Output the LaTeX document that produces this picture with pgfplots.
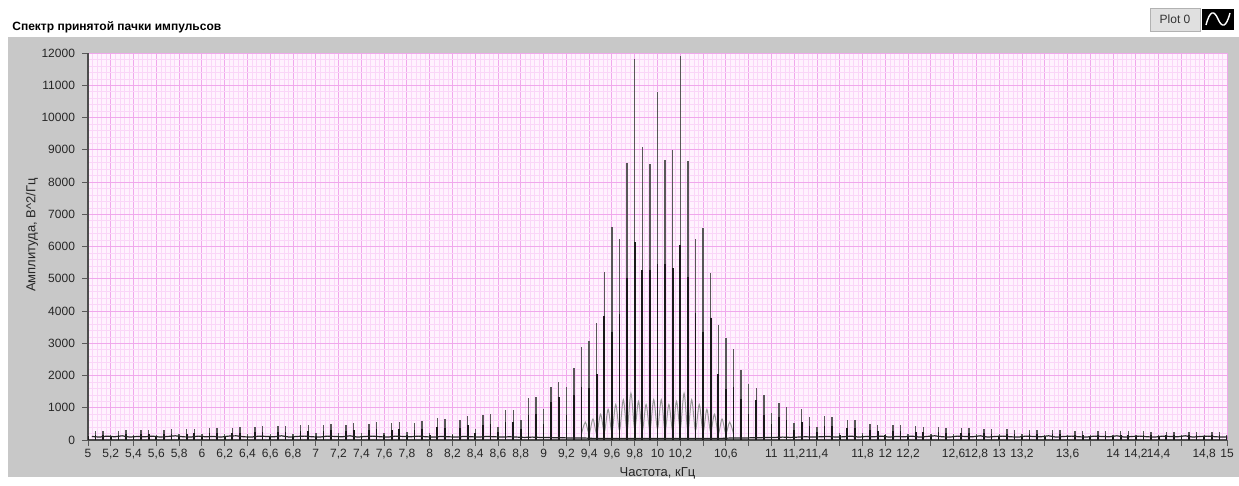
\documentclass[border=0pt]{standalone}
\usepackage{fontspec}
\setmainfont{Liberation Sans}
\usepackage{pgfplots}
\usepackage{pgfplotstable}
\pgfplotsset{compat=1.18}

\definecolor{panel}{RGB}{200,200,200}
\definecolor{bgpink}{RGB}{255,242,254}
\definecolor{gridmaj}{RGB}{240,168,236}
\definecolor{gridmin}{RGB}{250,214,248}

% f = peak frequency (kHz), h = peak height, d = dark lower part, fm/m = baseline between peaks
\pgfplotstableread{
f h d fm m
5.0000 170 110 5.0333 110
5.0667 280 170 5.1000 90
5.1333 290 170 5.1667 120
5.2000 170 110 5.2333 100
5.2667 290 170 5.3000 130
5.3333 300 180 5.3667 90
5.4000 170 110 5.4333 110
5.4667 300 180 5.5000 100
5.5333 320 190 5.5667 120
5.6000 170 110 5.6333 90
5.6667 320 190 5.7000 110
5.7333 330 200 5.7667 130
5.8000 180 110 5.8333 100
5.8667 340 200 5.9000 90
5.9333 350 210 5.9667 120
6.0000 180 110 6.0333 100
6.0667 360 220 6.1000 110
6.1333 370 220 6.1667 90
6.2000 190 120 6.2333 120
6.2667 380 230 6.3000 130
6.3333 390 230 6.3667 100
6.4000 190 120 6.4333 90
6.4667 400 240 6.5000 120
6.5333 420 250 6.5667 110
6.6000 200 120 6.6333 100
6.6667 430 260 6.7000 130
6.7333 440 260 6.7667 90
6.8000 200 120 6.8333 110
6.8667 450 270 6.9000 120
6.9333 470 280 6.9667 100
7.0000 210 130 7.0333 90
7.0667 470 280 7.1000 120
7.1333 500 300 7.1667 110
7.2000 210 130 7.2333 100
7.2667 480 290 7.3000 130
7.3333 530 320 7.3667 90
7.4000 220 130 7.4333 110
7.4667 500 300 7.5000 120
7.5333 560 340 7.5667 100
7.6000 230 140 7.6333 90
7.6667 540 320 7.7000 120
7.7333 560 340 7.7667 110
7.8000 240 150 7.8333 100
7.8667 520 310 7.9000 120
7.9333 580 350 7.9667 100
8.0000 220 150 8.0333 90
8.0667 680 400 8.1000 110
8.1333 640 380 8.1667 100
8.2000 200 150 8.2333 90
8.2667 610 370 8.3000 110
8.3333 750 450 8.3667 100
8.4000 350 220 8.4333 90
8.4667 790 470 8.5000 110
8.5333 820 490 8.5667 100
8.6000 400 250 8.6333 90
8.6667 920 550 8.7000 100
8.7333 940 560 8.7667 90
8.8000 610 350 8.8333 80
8.8667 1290 780 8.9000 90
8.9333 1340 800 8.9667 80
9.0000 970 510 9.0333 80
9.0667 1650 1180 9.1000 70
9.1333 1800 1340 9.1667 70
9.2000 1650 780 9.2333 60
9.2667 2240 1390 9.3000 60
9.3333 2890 1650 9.3667 60
9.4000 3070 1600 9.4333 50
9.4667 3620 2060 9.5000 50
9.5333 5200 3850 9.5667 50
9.6000 6590 3360 9.6333 50
9.6667 6240 3900 9.7000 50
9.7333 8590 5010 9.7667 50
9.8000 11800 6150 9.8333 50
9.8667 9080 5280 9.9000 50
9.9333 8560 5280 9.9667 50
10.0000 10800 5450 10.0333 50
10.0667 8690 5450 10.1000 50
10.1333 8990 5330 10.1667 50
10.2000 11900 6050 10.2333 50
10.2667 8660 5040 10.3000 50
10.3333 6240 3930 10.3667 50
10.4000 6570 3360 10.4333 50
10.4667 5170 3770 10.5000 50
10.5333 3570 2060 10.5667 50
10.6000 3170 1580 10.6333 60
10.6667 2820 1650 10.7000 60
10.7333 2170 1260 10.7667 60
10.8000 1730 820 10.8333 70
10.8667 1600 1230 10.9000 70
10.9333 1400 780 10.9667 80
11.0000 850 500 11.0333 80
11.0667 1150 700 11.1000 90
11.1333 1030 620 11.1667 80
11.2000 540 320 11.2333 90
11.2667 950 570 11.3000 100
11.3333 720 430 11.3667 90
11.4000 400 240 11.4333 100
11.4667 740 440 11.5000 110
11.5333 720 430 11.5667 90
11.6000 230 150 11.6333 100
11.6667 610 370 11.7000 120
11.7333 610 370 11.7667 90
11.8000 230 150 11.8333 110
11.8667 510 300 11.9000 100
11.9333 480 290 11.9667 120
12.0000 200 140 12.0333 90
12.0667 450 270 12.1000 110
12.1333 450 270 12.1667 100
12.2000 200 130 12.2333 120
12.2667 420 250 12.3000 90
12.3333 400 240 12.3667 110
12.4000 200 130 12.4333 130
12.4667 400 240 12.5000 100
12.5333 380 230 12.5667 90
12.6000 190 120 12.6333 120
12.6667 370 220 12.7000 110
12.7333 360 220 12.7667 100
12.8000 190 120 12.8333 130
12.8667 350 210 12.9000 90
12.9333 340 200 12.9667 110
13.0000 180 110 13.0333 120
13.0667 330 200 13.1000 100
13.1333 320 190 13.1667 90
13.2000 180 110 13.2333 120
13.2667 320 190 13.3000 110
13.3333 310 190 13.3667 100
13.4000 170 110 13.4333 130
13.4667 300 180 13.5000 90
13.5333 300 180 13.5667 110
13.6000 170 110 13.6333 120
13.6667 290 170 13.7000 100
13.7333 290 170 13.7667 90
13.8000 170 110 13.8333 120
13.8667 280 170 13.9000 110
13.9333 280 170 13.9667 100
14.0000 160 100 14.0333 130
14.0667 280 170 14.1000 90
14.1333 270 160 14.1667 110
14.2000 160 100 14.2333 120
14.2667 270 160 14.3000 100
14.3333 260 160 14.3667 90
14.4000 160 100 14.4333 120
14.4667 260 160 14.5000 110
14.5333 260 160 14.5667 100
14.6000 160 100 14.6333 130
14.6667 250 150 14.7000 90
14.7333 250 150 14.7667 110
14.8000 160 100 14.8333 120
14.8667 250 150 14.9000 100
14.9333 250 150 14.9667 90
15.0000 160 100 15.0333 110
}\spectrum

\begin{document}
\begin{tikzpicture}
% frame in pixel units of the reference (y downwards)
\begin{scope}[x=0.5pt,y=-0.5pt]
\path[use as bounding box] (0,0) rectangle (1239,477);
\fill[white] (0,0) rectangle (1239,477);
\fill[panel] (8,37) rectangle (1239,477);
\end{scope}

\begin{axis}[
  at={(44pt,-220pt)}, anchor=south west,
  scale only axis, width=569.5pt, height=193.5pt,
  xmin=5, xmax=15, ymin=0, ymax=12000,
  axis background/.style={fill=bgpink},
  axis lines*=left,
  axis line style={draw=black!70, line width=0.6pt},
  grid=both,
  major grid style={draw=gridmaj, line width=0.45pt},
  minor grid style={draw=gridmin, line width=0.3pt},
  minor x tick num=4, minor y tick num=4,
  tick align=outside, major tick length=3pt, minor tick length=0pt,
  tick style={draw=black!65, line width=0.5pt},
  scaled y ticks=false,
  ytick={0,1000,2000,3000,4000,5000,6000,7000,8000,9000,10000,11000,12000},
  xtick={5,5.2,5.4,5.6,5.8,6,6.2,6.4,6.6,6.8,7,7.2,7.4,7.6,7.8,8,8.2,8.4,8.6,8.8,9,9.2,9.4,9.6,9.8,10,10.2,10.4,10.6,10.8,11,11.2,11.4,11.6,11.8,12,12.2,12.4,12.6,12.8,13,13.2,13.4,13.6,13.8,14,14.2,14.4,14.6,14.8,15},
  xticklabels={5,{5,2},{5,4},{5,6},{5,8},6,{6,2},{6,4},{6,6},{6,8},7,{7,2},{7,4},{7,6},{7,8},8,{8,2},{8,4},{8,6},{8,8},9,{9,2},{9,4},{9,6},{9,8},10,{10,2},{},{10,6},{},11,{11,2},{11,4},{},{11,8},12,{12,2},{},{12,6},{12,8},13,{13,2},{},{13,6},{},14,{14,2},{14,4},{},{14,8},15},
  yticklabels={0,1000,2000,3000,4000,5000,6000,7000,8000,9000,10000,11000,12000},
  ticklabel style={font=\fontsize{6}{7}\selectfont, text=black!85},
  x tick label style={inner sep=1.5pt},
  ylabel={Амплитуда, В\textasciicircum2/Гц},
  xlabel={Частота, кГц},
  every axis y label/.style={at={(axis description cs:-0.0492,0.53)}, rotate=90, anchor=center, font=\fontsize{6.5}{7.5}\selectfont, text=black!85},
  every axis x label/.style={at={(axis description cs:0.5,0)}, yshift=-16.5pt, anchor=center, font=\fontsize{6.5}{7.5}\selectfont, text=black!85},
]
\addplot[smooth, draw=black!40, line width=0.5pt, no markers] coordinates {
 (9.3333,200) (9.3667,550) (9.4000,200) (9.4333,650) (9.4667,200) (9.5000,800)
 (9.5333,250) (9.5667,950) (9.6000,250) (9.6333,1100) (9.6667,300) (9.7000,1250)
 (9.7333,300) (9.7667,1450) (9.8000,350) (9.8333,1200) (9.8667,300) (9.9000,1100)
 (9.9333,300) (9.9667,1250) (10.0000,350) (10.0333,1250) (10.0667,300) (10.1000,1100)
 (10.1333,300) (10.1667,1200) (10.2000,350) (10.2333,1450) (10.2667,300) (10.3000,1250)
 (10.3333,300) (10.3667,1100) (10.4000,250) (10.4333,950) (10.4667,250) (10.5000,800)
 (10.5333,200) (10.5667,650) (10.6000,200) (10.6333,550) (10.6667,200)
};
\addplot[ycomb, draw=black!66, line width=0.7pt, no markers] table[x=f, y=h] {\spectrum};
\addplot[ycomb, draw=black!90, line width=0.85pt, no markers] table[x=f, y=d] {\spectrum};
\addplot[draw=black!85, line width=0.6pt, no markers] table[x=fm, y=m] {\spectrum};
\end{axis}

\begin{scope}[x=0.5pt,y=-0.5pt]
\node[anchor=west, font=\bfseries\fontsize{6}{7}\selectfont, inner sep=0pt] at (12,27) {Спектр принятой пачки импульсов};
\filldraw[fill=black!12, draw=black!30] (1150,8) rectangle (1200,31);
\node[font=\fontsize{6}{7}\selectfont, text=black!80, inner sep=0pt] at (1175,19.5) {Plot 0};
\fill[black] (1202,9) rectangle (1234,30);
\draw[white, line width=0.7pt] (1206,25) .. controls (1210,10) and (1214,10) .. (1218,19) .. controls (1222,28) and (1226,28) .. (1230,13);
\end{scope}
\end{tikzpicture}
\end{document}
